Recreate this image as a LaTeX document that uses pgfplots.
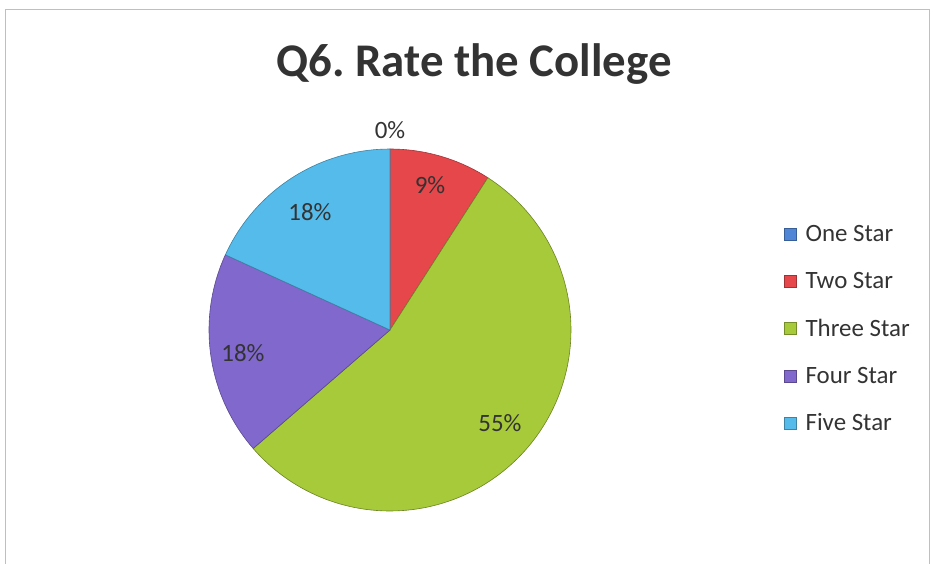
\documentclass[border=0pt]{standalone}
\usepackage{pgfplots}
\pgfplotsset{compat=1.18}
\usepackage{fontspec}
\setmainfont{Carlito}
\frenchspacing
\definecolor{cOne}{HTML}{4F86D6}
\definecolor{cTwo}{HTML}{E5474B}
\definecolor{cThree}{HTML}{A6CA3A}
\definecolor{cFour}{HTML}{8068CC}
\definecolor{cFive}{HTML}{55BBEA}
\definecolor{txt}{HTML}{333333}
\begin{document}
\begin{tikzpicture}
% shares in percent: One, Two, Three, Four, Five Star
\pgfmathsetmacro\pOne{0}
\pgfmathsetmacro\pTwo{9.09}
\pgfmathsetmacro\pThree{54.55}
\pgfmathsetmacro\pFour{18.18}
\pgfmathsetmacro\pFive{18.18}
\def\cx{390}\def\cy{234}\def\R{181}
\pgfmathsetmacro\aA{90}
\pgfmathsetmacro\aB{\aA-3.6*\pOne}
\pgfmathsetmacro\aC{\aB-3.6*\pTwo}
\pgfmathsetmacro\aD{\aC-3.6*\pThree}
\pgfmathsetmacro\aE{\aD-3.6*\pFour}
\pgfmathsetmacro\aF{\aE-3.6*\pFive}
\begin{axis}[x=1bp,y=1bp,xmin=0,xmax=933,ymin=0,ymax=564,
  hide axis, clip=false, anchor=south west, at={(0,0)},
  legend style={at={(axis cs:781,235)}, anchor=west, draw=none, fill=none,
    font=\fontsize{25}{29}\selectfont, text=txt, row sep=25bp,
    nodes={inner sep=2bp}},
  legend cell align=left,
  legend image code/.code={\draw[#1] (0bp,-6bp) rectangle (12bp,6bp);},
]
\addplot[fill=cTwo, draw=cTwo!70!black, line width=0.6bp, domain=\aC:\aB, samples=40, forget plot]
  ({\cx+\R*cos(x)},{\cy+\R*sin(x)}) -- (axis cs:\cx,\cy) -- cycle;
\addplot[fill=cThree, draw=cThree!65!black, line width=0.6bp, domain=\aD:\aC, samples=120, forget plot]
  ({\cx+\R*cos(x)},{\cy+\R*sin(x)}) -- (axis cs:\cx,\cy) -- cycle;
\addplot[fill=cFour, draw=cFour!70!black, line width=0.6bp, domain=\aE:\aD, samples=40, forget plot]
  ({\cx+\R*cos(x)},{\cy+\R*sin(x)}) -- (axis cs:\cx,\cy) -- cycle;
\addplot[fill=cFive, draw=cFive!70!black, line width=0.6bp, domain=\aF:\aE, samples=40, forget plot]
  ({\cx+\R*cos(x)},{\cy+\R*sin(x)}) -- (axis cs:\cx,\cy) -- cycle;
\addlegendimage{fill=cOne, draw=cOne!70!black}\addlegendentry{\hspace{7bp}One Star}
\addlegendimage{fill=cTwo, draw=cTwo!70!black}\addlegendentry{\hspace{7bp}Two Star}
\addlegendimage{fill=cThree, draw=cThree!70!black}\addlegendentry{\hspace{7bp}Three Star}
\addlegendimage{fill=cFour, draw=cFour!70!black}\addlegendentry{\hspace{7bp}Four Star}
\addlegendimage{fill=cFive, draw=cFive!70!black}\addlegendentry{\hspace{7bp}Five Star}
% frame
\draw[black!25, line width=1bp] (axis cs:5,0) -- (axis cs:5,554) -- (axis cs:929,554) -- (axis cs:929,0);
% title
\node[font=\fontsize{47}{52}\selectfont\bfseries, text=txt] at (axis cs:474,500) {Q6. Rate the College};
% data labels
\begin{scope}[every node/.style={font=\fontsize{25}{29}\selectfont, text=txt}]
\node at (axis cs:390,434) {0\%};
\node at (axis cs:430,379) {9\%};
\node at (axis cs:310,352) {18\%};
\node at (axis cs:243,211) {18\%};
\node at (axis cs:500,141) {55\%};
\end{scope}
\end{axis}
\pgfresetboundingbox
\path (0,0) rectangle (933bp,564bp);
\end{tikzpicture}
\end{document}
